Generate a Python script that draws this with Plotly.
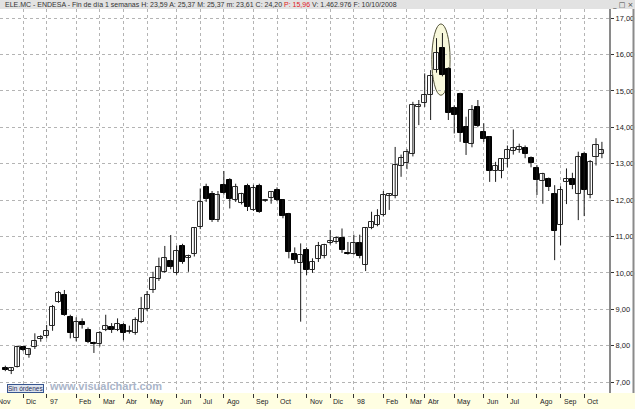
import plotly.graph_objects as go

# Weekly OHLC (index 0 = first visible week, Nov 1996)
opens = [7.40, 7.30, 7.42, 7.96, 7.74, 7.97, 8.18, 8.26, 8.55, 9.21,
         9.39, 8.80, 8.22, 8.66, 8.43, 8.08, 8.06, 8.43, 8.50, 8.43,
         8.57, 8.37, 8.35, 8.66, 9.00, 9.53, 9.82, 10.03, 10.33, 9.99,
         10.74, 10.40, 10.53, 11.25, 12.37, 12.18, 11.45, 12.41, 12.55, 11.99,
         11.91, 12.38, 11.74, 12.38, 11.98, 12.05, 12.27, 11.99, 11.62, 10.53,
         10.28, 10.63, 10.08, 10.37, 10.46, 10.81, 10.85, 10.95, 10.55, 10.53,
         10.83, 10.21, 11.22, 11.31, 11.60, 12.12, 12.11, 12.93, 13.03, 13.26,
         14.56, 14.67, 14.88, 15.57, 16.17, 15.61, 14.53, 14.91, 14.00, 13.54,
         14.55, 13.88, 13.72, 12.80, 12.80, 13.12, 13.36, 13.39, 13.42, 13.15,
         12.87, 12.52, 12.57, 12.18, 11.31, 12.49, 12.59, 12.16, 13.26, 12.14,
         13.19, 13.28]
highs = [7.45, 7.40, 8.00, 7.98, 7.92, 8.34, 8.29, 8.57, 9.12, 9.50,
         9.53, 8.85, 8.78, 8.75, 8.50, 8.11, 8.40, 8.85, 8.62, 8.75,
         8.62, 8.55, 8.78, 9.34, 9.50, 10.03, 10.42, 10.74, 11.04, 10.75,
         10.80, 10.50, 11.25, 12.32, 12.45, 12.25, 12.25, 12.80, 12.60, 12.45,
         12.20, 12.45, 12.42, 12.45, 12.02, 12.22, 12.35, 12.02, 11.65, 10.70,
         10.81, 10.70, 10.40, 10.85, 10.80, 11.18, 11.00, 11.22, 10.85, 11.05,
         11.05, 11.25, 11.68, 11.75, 12.25, 12.18, 13.46, 13.25, 13.40, 14.70,
         14.75, 15.48, 15.57, 16.45, 16.59, 15.65, 14.60, 14.95, 14.29, 14.61,
         14.75, 14.11, 13.75, 13.05, 13.15, 13.50, 13.94, 13.55, 13.50, 13.20,
         12.96, 12.75, 12.62, 12.41, 12.38, 12.87, 12.75, 13.33, 13.33, 13.10,
         13.70, 13.60]
lows = [7.30, 7.22, 7.40, 7.85, 7.67, 7.91, 8.11, 8.20, 8.41, 9.18,
        8.82, 8.20, 8.12, 8.47, 8.07, 7.80, 7.98, 8.40, 8.35, 8.40,
        8.15, 8.33, 8.30, 8.62, 8.95, 9.45, 9.78, 10.00, 10.10, 9.95,
        10.25, 10.03, 10.45, 11.20, 11.95, 11.40, 11.40, 12.15, 11.77, 11.95,
        11.88, 11.70, 11.70, 11.65, 11.95, 11.90, 11.97, 11.50, 10.40, 10.25,
        8.66, 9.94, 10.00, 10.30, 10.40, 10.78, 10.80, 10.55, 10.50, 10.50,
        10.40, 10.05, 11.20, 11.28, 11.55, 11.73, 12.05, 12.64, 12.85, 13.20,
        14.06, 14.56, 14.20, 15.50, 15.40, 14.20, 13.83, 13.60, 13.24, 13.45,
        14.00, 13.60, 12.50, 12.50, 12.60, 12.90, 13.25, 13.30, 13.15, 12.90,
        12.14, 11.90, 12.25, 10.35, 10.76, 11.89, 12.30, 11.45, 11.56, 12.05,
        12.95, 13.15]
closes = [7.33, 7.38, 7.97, 7.87, 7.90, 8.13, 8.23, 8.41, 9.05, 9.44,
          8.85, 8.34, 8.66, 8.57, 8.10, 8.05, 8.35, 8.54, 8.43, 8.60,
          8.35, 8.39, 8.70, 9.00, 9.38, 9.85, 10.17, 10.40, 10.15, 10.60,
          10.31, 10.46, 11.22, 11.94, 12.03, 11.45, 12.14, 12.20, 12.02, 12.35,
          12.17, 11.80, 12.32, 11.68, 12.00, 12.21, 11.99, 11.55, 10.58, 10.35,
          10.50, 10.08, 10.31, 10.74, 10.76, 10.87, 10.95, 10.63, 10.53, 10.81,
          10.46, 11.22, 11.40, 11.56, 12.15, 12.16, 12.96, 13.15, 13.33, 14.62,
          14.61, 14.90, 15.41, 16.03, 15.43, 14.40, 14.34, 13.85, 13.56, 14.47,
          14.03, 13.67, 12.80, 12.95, 13.12, 13.39, 13.44, 13.45, 13.26, 13.01,
          12.55, 12.71, 12.35, 11.16, 12.29, 12.57, 12.41, 13.18, 12.29, 13.06,
          13.50, 13.37]

month_labels = ["Nov", "Dic", "97", "Feb", "Mar", "Abr", "May", "Jun", "Jul", "Ago",
                "Sep", "Oct", "Nov", "Dic", "98", "Feb", "Mar", "Abr", "May", "Jun",
                "Jul", "Ago", "Sep", "Oct"]
month_index = [-1.75, 3, 7, 12, 16, 20, 24, 29, 33, 37, 42, 46, 51, 55, 59, 64, 68, 71,
               76, 81, 85, 90, 94, 98]
price_ticks = [7, 8, 9, 10, 11, 12, 13, 14, 15, 16, 17]

header = ("ELE.MC - ENDESA - Fin de día 1 semanas H: 23,59 A: 25,37 M: 25,37 "
          "m: 23,61 C: 24,20 <span style='color:#e0201c'>P: 15,96</span> "
          "V: 1.462.976 F: 10/10/2008")

W, H = 635, 409
ML, MR, MT, MB = 0, 26, 9, 16
PW = W - ML - MR
PH = H - MT - MB
XR = [-0.9, 102.2]

idx = list(range(len(opens)))
body_base = [min(o, c) for o, c in zip(opens, closes)]
body_h = [max(abs(c - o), 0.03) for o, c in zip(opens, closes)]
body_fill = ["#ffffff" if c >= o else "#000000" for o, c in zip(opens, closes)]
body_line = ["#2a2a2a" if c >= o else "#000000" for o, c in zip(opens, closes)]

wx, wy = [], []
for i, h, l in zip(idx, highs, lows):
    wx += [i, i, None]
    wy += [l, h, None]

fig = go.Figure()
fig.add_trace(go.Scatter(x=wx, y=wy, mode="lines",
                         line=dict(color="#1a1a1a", width=1),
                         hoverinfo="skip", showlegend=False))
fig.add_trace(go.Bar(x=idx, y=body_h, base=body_base, width=0.85,
                     marker=dict(color=body_fill,
                                 line=dict(color=body_line, width=1)),
                     showlegend=False))

# highlighted peak (ellipse around the top candles)
peak = [73, 74]
ex0 = min(peak) - 0.8
ex1 = max(peak) + 1.3
ey0 = min(lows[i] for i in peak) - 0.52
ey1 = max(highs[i] for i in peak) + 0.25

shapes = [
    dict(type="circle", xref="x", yref="y", x0=ex0, x1=ex1, y0=ey0, y1=ey1,
         fillcolor="#f8f8dc", line=dict(color="#55553a", width=1), layer="below"),
    # header band
    dict(type="rect", xref="paper", yref="paper", x0=0, x1=W / PW,
         y0=1, y1=1 + MT / PH, fillcolor="#e2e2e2", line=dict(width=0), layer="below"),
    # right axis panel
    dict(type="rect", xref="paper", yref="paper", x0=1, x1=W / PW,
         y0=0, y1=1, fillcolor="#ffffff", line=dict(width=0), layer="below"),
    dict(type="line", xref="paper", yref="paper", x0=(W - 1.5) / PW, x1=(W - 1.5) / PW,
         y0=0, y1=1, line=dict(color="#8a8a8a", width=2)),
]

annotations = [
    dict(text=header, xref="paper", yref="paper", x=0, y=1, xanchor="left",
         yanchor="middle", xshift=3, yshift=MT / 2, showarrow=False,
         font=dict(family="Liberation Sans, Arial", size=7, color="#333333")),
    dict(text="_ □ ×", xref="paper", yref="paper", x=(W - 13) / PW, y=1,
         xanchor="center", yanchor="middle", yshift=MT / 2, showarrow=False,
         font=dict(family="DejaVu Sans", size=7, color="#444444")),
    dict(text="Sin órdenes", xref="paper", yref="paper", x=7 / PW, y=0,
         xanchor="left", yanchor="bottom", yshift=0, showarrow=False,
         bgcolor="#dfe5ef", bordercolor="#36558f", borderwidth=1, borderpad=0,
         font=dict(family="Liberation Sans, Arial", size=6.5, color="#1f2f5a")),
    dict(text="<b>www.visualchart.com</b>", xref="paper", yref="paper", x=47 / PW, y=0,
         xanchor="left", yanchor="bottom", yshift=-1, showarrow=False,
         font=dict(family="Liberation Sans, Arial", size=11, color="#aab5c9")),
]
for lab, mi in zip(month_labels, month_index):
    annotations.append(dict(text=lab, xref="paper", yref="paper",
                            x=(mi - XR[0]) / (XR[1] - XR[0]), y=0,
                            xanchor="left", yanchor="top", xshift=1, yshift=-3,
                            showarrow=False,
                            font=dict(family="Liberation Sans, Arial", size=7,
                                      color="#222222")))

fig.update_layout(
    width=W, height=H,
    margin=dict(l=ML, r=MR, t=MT, b=MB, pad=0),
    paper_bgcolor="#fffee2",
    plot_bgcolor="#ffffff",
    separators=",.",
    bargap=0, barmode="overlay",
    shapes=shapes,
    annotations=annotations,
    xaxis=dict(range=XR, tickmode="array", tickvals=month_index,
               showticklabels=False, ticks="outside", ticklen=4, tickcolor="#333333",
               showgrid=True, gridcolor="#b4b4b4", griddash="dot", gridwidth=1,
               zeroline=False, showline=False, fixedrange=True),
    yaxis=dict(range=[6.70, 17.25], side="right", tickmode="array",
               tickvals=price_ticks, tickformat=".2f", ticks="outside", ticklen=3,
               tickcolor="#333333",
               tickfont=dict(family="Liberation Sans, Arial", size=7.5, color="#222222"),
               showgrid=True, gridcolor="#b4b4b4", griddash="dot", gridwidth=1,
               zeroline=False, showline=True, linecolor="#8a8a8a", linewidth=2,
               fixedrange=True),
)

fig.write_html("out.html",
               config={"displayModeBar": False},
               post_script="document.body.style.margin='0px';"
                           "document.body.style.overflow='hidden';")
